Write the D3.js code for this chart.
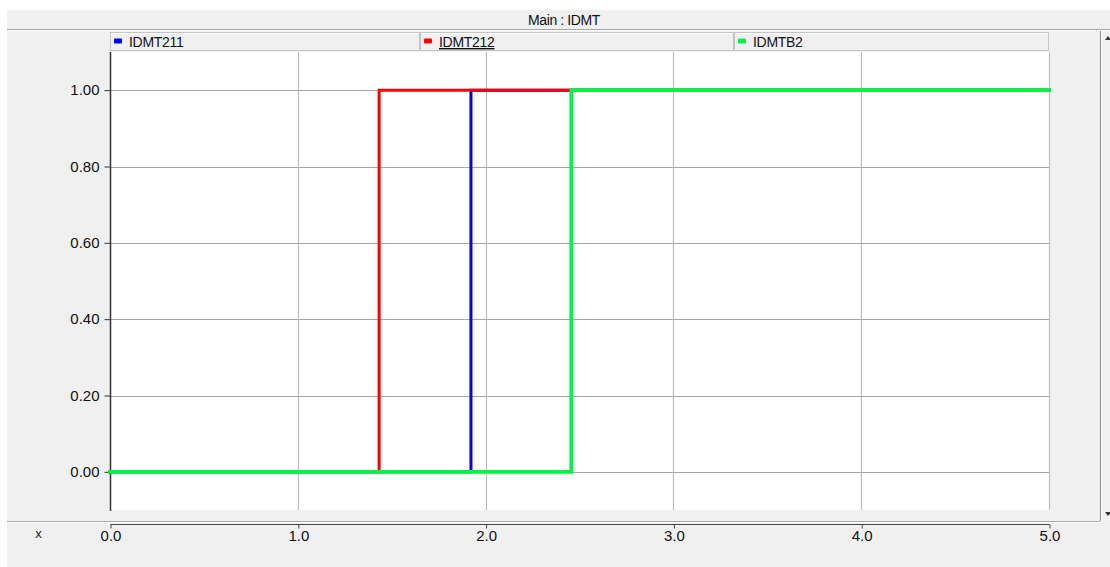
<!DOCTYPE html>
<html>
<head>
<meta charset="utf-8">
<script src="https://cdn.jsdelivr.net/npm/d3@7"></script>
<style>
  html, body { margin: 0; padding: 0; background: #ffffff; }
  svg { display: block; font-family: "Liberation Sans", Arial, sans-serif; }
</style>
</head>
<body>
<svg id="chart" width="1110" height="567"></svg>
<script>
// Signal traces (step signals: time in s, state 0/1)
const seriesNames = ["IDMT211", "IDMT212", "IDMTB2"];
const seriesColors = ["#0000ff", "#ff0000", "#00f542"];
const idmt211T = [0, 1.922, 5.0];
const idmt211V = [0, 1, 1];
const idmt212T = [0, 1.433, 5.0];
const idmt212V = [0, 1, 1];
const idmtB2T = [0, 2.456, 5.0];
const idmtB2V = [0, 1, 1];
const xTicks = [0, 1, 2, 3, 4, 5];
const yTicks = [0, 0.2, 0.4, 0.6, 0.8, 1.0];
const chartTitle = "Main : IDMT";

const seriesT = [idmt211T, idmt212T, idmtB2T];
const seriesV = [idmt211V, idmt212V, idmtB2V];

const W = 1110, H = 567;
const plot = { left: 110, right: 1049, top: 52, bottom: 510 };
const FONT = "\"Liberation Sans\", Arial, sans-serif";

const svg = d3.select("#chart");

// panel background
svg.append("rect").attr("x", 7).attr("y", 10).attr("width", W - 7).attr("height", H - 10).attr("fill", "#f0f0f0");

// title bar
svg.append("line").attr("x1", 7).attr("x2", W).attr("y1", 29.5).attr("y2", 29.5).attr("stroke", "#a8a8a8");
svg.append("line").attr("x1", 7).attr("x2", W).attr("y1", 30.5).attr("y2", 30.5).attr("stroke", "#ffffff");
svg.append("text").attr("x", 564).attr("y", 25).attr("text-anchor", "middle")
  .attr("font-size", 14).attr("letter-spacing", "-0.4px").attr("fill", "#111").text(chartTitle);

const x = d3.scaleLinear().domain([0, 5]).range([plot.left, plot.right]);
const y = d3.scaleLinear().domain([-0.1, 1.1]).range([plot.bottom, plot.top]);

// legend boxes
const legendEdges = [110, 420, 734, 1049];
const legend = svg.append("g");
seriesNames.forEach((name, i) => {
  const x0 = legendEdges[i], x1 = legendEdges[i + 1];
  const g = legend.append("g");
  g.append("rect").attr("x", x0 + 0.5).attr("y", 32.5).attr("width", x1 - x0 - 1).attr("height", 18)
    .attr("fill", "#f0f0f0").attr("stroke", "#c4c4c4");
  g.append("line").attr("x1", x0 + 1).attr("x2", x1 - 1).attr("y1", 33.5).attr("y2", 33.5).attr("stroke", "#ffffff");
  g.append("rect").attr("x", x0 + 4).attr("y", 38.5).attr("width", 8).attr("height", 5).attr("rx", 1)
    .attr("fill", seriesColors[i]);
  const t = g.append("text").attr("x", x0 + 19).attr("y", 47).attr("font-size", 14)
    .attr("letter-spacing", "-0.3px").attr("fill", "#111").text(name);
  if (name === "IDMT212") t.attr("text-decoration", "underline");
});

// plot background
svg.append("rect").attr("x", plot.left).attr("y", plot.top)
  .attr("width", plot.right - plot.left).attr("height", plot.bottom - plot.top).attr("fill", "#ffffff");

// grid
const grid = svg.append("g");
grid.selectAll("line.v").data(xTicks.filter(d => d > 0)).join("line")
  .attr("x1", d => Math.round(x(d)) + 0.5).attr("x2", d => Math.round(x(d)) + 0.5)
  .attr("y1", plot.top).attr("y2", plot.bottom)
  .attr("stroke", "#bdbdbd").attr("stroke-width", 1.2);
grid.selectAll("line.h").data(yTicks).join("line")
  .attr("x1", plot.left).attr("x2", plot.right)
  .attr("y1", d => Math.round(y(d)) + 0.5).attr("y2", d => Math.round(y(d)) + 0.5)
  .attr("stroke", "#a6a6a6").attr("stroke-width", 1);

// y axis
const yAxis = d3.axisLeft(y).tickValues(yTicks).tickFormat(d3.format(".2f")).tickSize(6).tickPadding(5);
const yg = svg.append("g").attr("transform", `translate(${plot.left + 0.5},0)`).call(yAxis);
yg.select(".domain").attr("d", `M0,${plot.top}V${plot.bottom + 1}`).attr("stroke", "#333").attr("stroke-width", 1.5);
yg.selectAll(".tick line").attr("stroke", "#333");
yg.selectAll(".tick text").attr("font-size", 15).attr("fill", "#111").attr("font-family", FONT);

// separator above x axis
svg.append("line").attr("x1", 7).attr("x2", 1100).attr("y1", 521.5).attr("y2", 521.5).attr("stroke", "#a8a8a8");
svg.append("line").attr("x1", 7).attr("x2", 1100).attr("y1", 522.5).attr("y2", 522.5).attr("stroke", "#ffffff");

// x axis
const xAxis = d3.axisBottom(x).tickValues(xTicks).tickFormat(d3.format(".1f")).tickSize(4).tickPadding(2);
const xg = svg.append("g").attr("transform", `translate(0.5,524.5)`).call(xAxis);
xg.select(".domain").attr("d", `M${plot.left},0H${plot.right}`).attr("stroke", "#444").attr("stroke-width", 1.2);
xg.selectAll(".tick line").attr("stroke", "#444");
xg.selectAll(".tick text").attr("font-size", 15).attr("fill", "#111").attr("font-family", FONT);
svg.append("text").attr("x", 38.5).attr("y", 538).attr("text-anchor", "middle").attr("font-size", 13)
  .attr("fill", "#222").text("x");

// right-hand scroll strip
svg.append("line").attr("x1", 1100.5).attr("x2", 1100.5).attr("y1", 31).attr("y2", 521).attr("stroke", "#8a8a8a");
svg.append("line").attr("x1", 1101.5).attr("x2", 1101.5).attr("y1", 31).attr("y2", 521).attr("stroke", "#ffffff");
svg.append("path").attr("d", "M1105,40L1108,36L1111,40Z").attr("fill", "#333");
svg.append("path").attr("d", "M1105,512L1108,516L1111,512Z").attr("fill", "#333");

// traces
const line = d3.line().x(d => x(d[0])).y(d => y(d[1])).curve(d3.curveStepAfter);
const traces = svg.append("g").attr("fill", "none").attr("stroke-linejoin", "miter").attr("stroke-linecap", "square");
seriesNames.forEach((name, i) => {
  const pts = seriesT[i].map((t, k) => [t, seriesV[i][k]]);
  traces.append("path").attr("d", line(pts)).attr("stroke", seriesColors[i])
    .attr("stroke-width", i === 2 ? 3.6 : 3);
});
</script>
</body>
</html>
